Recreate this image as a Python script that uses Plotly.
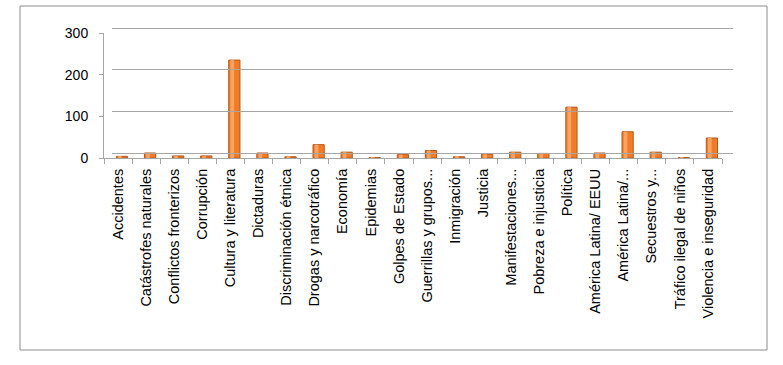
import plotly.graph_objects as go

categories = [
    "Accidentes", "Catástrofes naturales", "Conflictos fronterizos", "Corrupción",
    "Cultura y literatura", "Dictaduras", "Discriminación étnica", "Drogas y narcotráfico",
    "Economía", "Epidemias", "Golpes de Estado", "Guerrillas y grupos...",
    "Inmigración", "Justicia", "Manifestaciones...", "Pobreza e injusticia",
    "Política", "América Latina/ EEUU", "América Latina/...", "Secuestros y...",
    "Tráfico ilegal de niños", "Violencia e inseguridad",
]
values = [4, 12, 5, 5, 235, 12, 3, 32, 14, 1, 8, 18, 3, 9, 14, 11, 122, 12, 63, 14, 1, 48]
y_ticks = [0, 100, 200, 300]

W, H = 783, 365
# front axes (pixels)
fx0, fx1 = 104, 722
fy0, fy300 = 158, 33
dx, dy = 8, 5          # 3D offset of back wall
pad = 10               # extra value units around back-wall range
ppu = (fy0 - fy300) / 300.0
b_bot = fy0 - dy + pad * ppu
b_top = fy300 - dy - pad * ppu

L, R, T, B = fx0, 733, int(b_top) - 1, fy0
pw, ph = R - L, B - T

FONT = "Liberation Sans"

fig = go.Figure()

# back-wall gridlines (offset for the 3D look)
fig.add_trace(go.Scatter(x=[0, 1], y=[0, 300], mode="markers", marker=dict(opacity=0),
                         xaxis="x2", yaxis="y2", hoverinfo="skip", showlegend=False))

fig.add_trace(go.Bar(
    x=categories, y=values, width=0.4, offset=-0.06,
    marker=dict(color="#F07C2A", line=dict(color="#B8561A", width=1)),
    showlegend=False,
))
# highlight strip to imitate cylinder shading
fig.add_trace(go.Bar(
    x=categories, y=values, width=0.13, offset=0.0,
    marker=dict(color="#F9A35E", line=dict(width=0)),
    showlegend=False, hoverinfo="skip",
))

fig.update_layout(
    width=W, height=H,
    margin=dict(l=L, r=W - R, t=T, b=H - B, autoexpand=False),
    paper_bgcolor="white", plot_bgcolor="rgba(0,0,0,0)",
    barmode="overlay",
    font=dict(family=FONT, color="#000000"),
    xaxis=dict(
        domain=[0, (fx1 - L) / pw], type="category",
        tickangle=-90, tickfont=dict(size=14.5, family=FONT),
        showline=True, linecolor="#A6A6A6", linewidth=1,
        ticks="outside", tickson="boundaries", ticklen=5, tickcolor="#A6A6A6",
        ticklabelstandoff=4,
        showgrid=False, range=[-0.5, len(categories) - 0.5],
        anchor="y", automargin=False,
    ),
    yaxis=dict(
        domain=[0, (B - fy300) / ph], range=[0, 300],
        tickvals=y_ticks, tickfont=dict(size=14, family=FONT),
        showline=True, linecolor="#A6A6A6", linewidth=1,
        ticks="outside", ticklen=4, tickcolor="#A6A6A6",
        ticklabelstandoff=8,
        showgrid=False, zeroline=False, anchor="x", automargin=False,
    ),
    xaxis2=dict(
        domain=[dx / pw, 1], range=[0, 1],
        visible=False, anchor="y2",
    ),
    yaxis2=dict(
        domain=[(B - b_bot) / ph, (B - b_top) / ph], range=[-pad, 300 + pad],
        tickvals=y_ticks, showticklabels=False, showgrid=True,
        gridcolor="#A6A6A6", gridwidth=1, zeroline=False, showline=False,
        ticks="", anchor="x2",
    ),
    shapes=[dict(type="rect", xref="paper", yref="paper",
                 x0=(20 - L) / pw, x1=(767 - L) / pw,
                 y0=(B - 350) / ph, y1=(B - 6) / ph,
                 line=dict(color="#8C8C8C", width=1), fillcolor="rgba(0,0,0,0)",
                 layer="below")],
)

fig.write_html("out.html", config={"displayModeBar": False},
               post_script="document.body.style.margin='0';")
